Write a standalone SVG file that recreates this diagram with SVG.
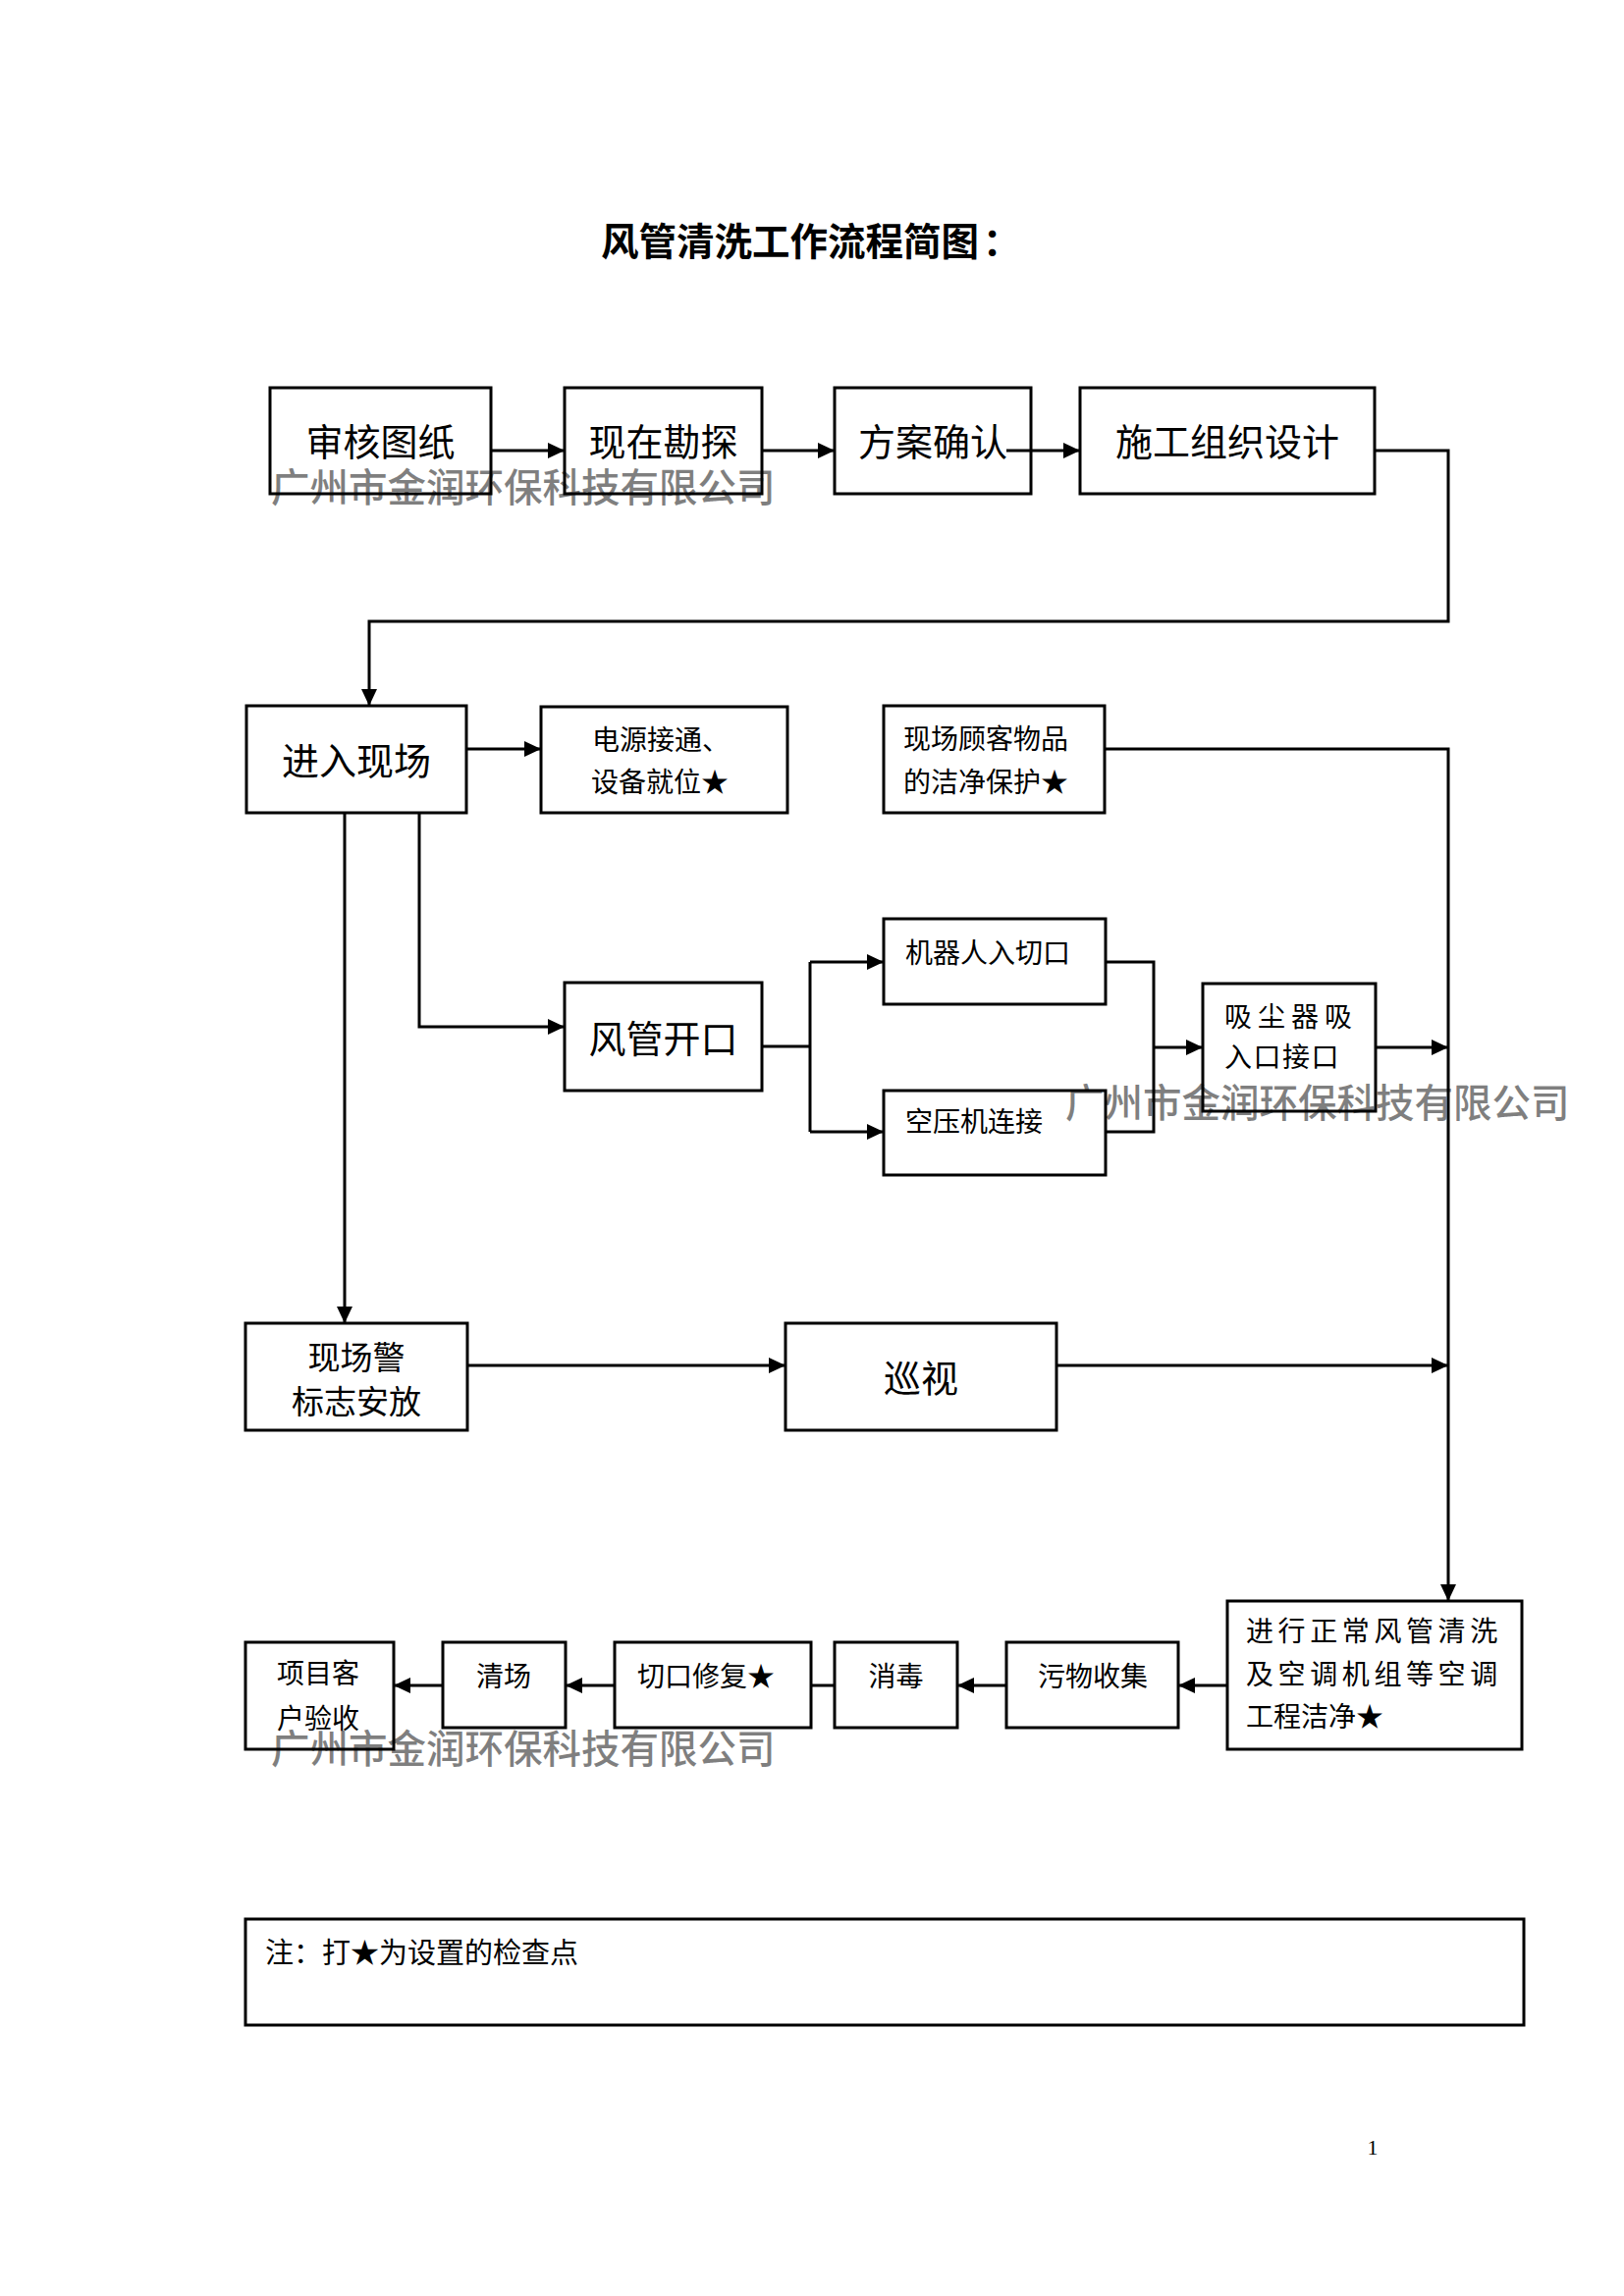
<svg xmlns="http://www.w3.org/2000/svg" width="1654" height="2339" viewBox="0 0 1654 2339">
<defs>
<marker id="arrow" markerUnits="userSpaceOnUse" markerWidth="17" markerHeight="16" viewBox="0 0 17 16" refX="17" refY="8" orient="auto">
<path d="M0,0 L17,8 L0,16 z" fill="#000"/>
</marker>
<style>
.box{fill:#fff;stroke:#000;stroke-width:3}
.t{font-family:"Noto Sans CJK SC","Liberation Serif",serif;fill:#000}
.big{font-size:38px;text-anchor:middle}
.sm{font-size:28px}
.mid{font-size:33px;text-anchor:middle}
.c{text-anchor:middle}
.con{fill:none;stroke:#000;stroke-width:3}
.wm{font-family:"Noto Sans CJK SC","Liberation Sans",sans-serif;font-size:39.5px;font-weight:500;fill:#000;fill-opacity:0.5}
</style>
</defs>
<rect width="1654" height="2339" fill="#fff"/>

<text class="t" x="612" y="260" font-size="38.5" font-weight="bold">风管清洗工作流程简图<tspan dx="4">：</tspan></text>

<g id="n-shenhe"><rect class="box" x="275" y="395" width="225" height="108"/><text class="t big" x="387.5" y="464">审核图纸</text></g>
<g id="n-kantan"><rect class="box" x="575" y="395" width="201" height="108"/><text class="t big" x="675.5" y="464">现在勘探</text></g>
<g id="n-fangan"><rect class="box" x="850" y="395" width="200" height="108"/><text class="t big" x="950" y="464">方案确认</text></g>
<g id="n-shigong"><rect class="box" x="1100" y="395" width="300" height="108"/><text class="t big" x="1250" y="464">施工组织设计</text></g>

<g id="n-jinru"><rect class="box" x="251" y="719" width="224" height="109"/><text class="t big" x="363" y="789">进入现场</text></g>
<g id="n-dianyuan"><rect class="box" x="551" y="720" width="251" height="108"/><text class="t sm" x="603" y="764">电源接通、</text><text class="t sm" x="602" y="807">设备就位★</text></g>
<g id="n-guke"><rect class="box" x="900" y="719" width="225" height="109"/><text class="t sm" x="920" y="763">现场顾客物品</text><text class="t sm" x="920" y="807">的洁净保护★</text></g>

<g id="n-kaikou"><rect class="box" x="575" y="1001" width="201" height="110"/><text class="t big" x="675.5" y="1072">风管开口</text></g>
<g id="n-jiqiren"><rect class="box" x="900" y="936" width="226" height="87"/><text class="t sm" x="922" y="981">机器人入切口</text></g>
<g id="n-kongya"><rect class="box" x="900" y="1111" width="226" height="86"/><text class="t sm" x="922" y="1153">空压机连接</text></g>
<g id="n-xichen"><rect class="box" x="1225" y="1002" width="176" height="130"/><text class="t sm" x="1247" y="1046" letter-spacing="6">吸尘器吸</text><text class="t sm" x="1247" y="1087" letter-spacing="1.5">入口接口</text></g>

<g id="n-jingbiao"><rect class="box" x="250" y="1348" width="226" height="109"/><text class="t mid" x="363" y="1395">现场警</text><text class="t mid" x="363" y="1440">标志安放</text></g>
<g id="n-xunshi"><rect class="box" x="800" y="1348" width="276" height="109"/><text class="t big" x="938" y="1418">巡视</text></g>

<g id="n-qingxi"><rect class="box" x="1250" y="1631" width="300" height="151"/><text class="t sm" x="1269" y="1672" letter-spacing="4.6">进行正常风管清洗</text><text class="t sm" x="1269" y="1716" letter-spacing="4.6">及空调机组等空调</text><text class="t sm" x="1269" y="1759">工程洁净★</text></g>
<g id="n-wuwu"><rect class="box" x="1025" y="1673" width="175" height="87"/><text class="t sm c" x="1113" y="1718">污物收集</text></g>
<g id="n-xiaodu"><rect class="box" x="850" y="1673" width="125" height="87"/><text class="t sm c" x="912.5" y="1718">消毒</text></g>
<g id="n-xiufu"><rect class="box" x="626" y="1673" width="200" height="87"/><text class="t sm" x="649" y="1718">切口修复★</text></g>
<g id="n-qingchang"><rect class="box" x="451" y="1673" width="125" height="87"/><text class="t sm c" x="513" y="1718">清场</text></g>
<g id="n-yanshou"><rect class="box" x="250" y="1673" width="151" height="109"/><text class="t sm" x="282" y="1715">项目客</text><text class="t sm" x="282" y="1761">户验收</text></g>

<g id="n-note"><rect class="box" x="250" y="1955" width="1302" height="108"/><text class="t" x="270" y="2000" font-size="29">注：打★为设置的检查点</text></g>

<g id="connectors">
<polyline class="con" points="500,459 575,459" marker-end="url(#arrow)"/>
<polyline class="con" points="776,459 850,459" marker-end="url(#arrow)"/>
<polyline class="con" points="1025,459 1100,459" marker-end="url(#arrow)"/>
<polyline class="con" points="1400,459 1475,459 1475,633 376,633 376,719" marker-end="url(#arrow)"/>
<polyline class="con" points="475,763 551,763" marker-end="url(#arrow)"/>
<polyline class="con" points="1125,763 1475,763 1475,1631" marker-end="url(#arrow)"/>
<polyline class="con" points="427,828 427,1046 575,1046" marker-end="url(#arrow)"/>
<polyline class="con" points="351,828 351,1348" marker-end="url(#arrow)"/>
<polyline class="con" points="776,1066 825,1066"/>
<polyline class="con" points="825,980 825,1153"/>
<polyline class="con" points="825,980 900,980" marker-end="url(#arrow)"/>
<polyline class="con" points="825,1153 900,1153" marker-end="url(#arrow)"/>
<polyline class="con" points="1126,980 1175,980 1175,1153 1126,1153"/>
<polyline class="con" points="1175,1067 1225,1067" marker-end="url(#arrow)"/>
<polyline class="con" points="1401,1067 1475,1067" marker-end="url(#arrow)"/>
<polyline class="con" points="476,1391 800,1391" marker-end="url(#arrow)"/>
<polyline class="con" points="1076,1391 1475,1391" marker-end="url(#arrow)"/>
<polyline class="con" points="1250,1717 1200,1717" marker-end="url(#arrow)"/>
<polyline class="con" points="1025,1717 975,1717" marker-end="url(#arrow)"/>
<polyline class="con" points="850,1717 826,1717"/>
<polyline class="con" points="626,1717 576,1717" marker-end="url(#arrow)"/>
<polyline class="con" points="451,1717 401,1717" marker-end="url(#arrow)"/>
</g>

<text x="1398" y="2195" font-family="Liberation Serif, serif" font-size="22" text-anchor="middle">1</text>

<text class="wm" x="276" y="511">广州市金润环保科技有限公司</text>
<text class="wm" x="1085" y="1138">广州市金润环保科技有限公司</text>
<text class="wm" x="276" y="1796">广州市金润环保科技有限公司</text>
</svg>
